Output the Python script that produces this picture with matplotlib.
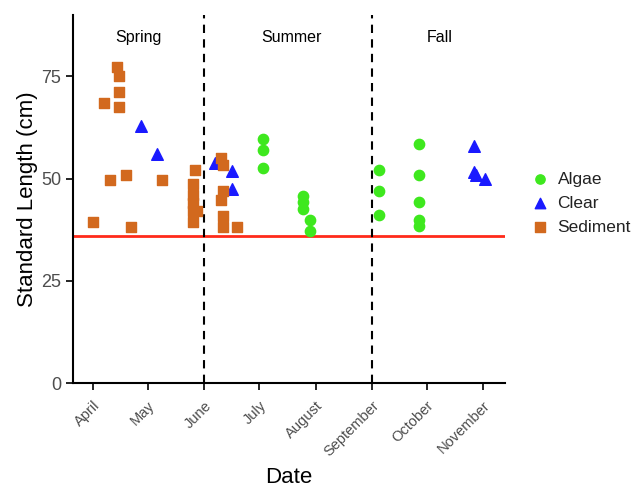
import datetime as dt
import matplotlib
matplotlib.use("Agg")
import matplotlib.pyplot as plt
import matplotlib.dates as mdates

plt.rcParams['font.family'] = ['Liberation Sans', 'DejaVu Sans']

# sampling dates (month, day) and standard length (cm) per habitat
sediment_dates = [(4, 1), (4, 7), (4, 10), (4, 14), (4, 15), (4, 15), (4, 15), (4, 19), (4, 22),
                  (5, 9), (5, 26), (5, 26), (5, 26), (5, 26), (5, 27), (5, 28), (5, 26),
                  (6, 10), (6, 11), (6, 11), (6, 10), (6, 11), (6, 11), (6, 19)]
sediment_len = [39.4, 68.6, 49.6, 77.3, 75.2, 71.2, 67.5, 50.8, 38.1,
                49.6, 48.7, 46.1, 42.0, 39.4, 52.2, 42.0, 44.0,
                55.0, 53.4, 47.0, 44.9, 40.8, 38.2, 38.2]

clear_dates = [(4, 27), (5, 6), (6, 7), (6, 16), (6, 16), (10, 27), (10, 27), (10, 28), (11, 2)]
clear_len = [63.0, 56.1, 53.9, 51.8, 47.4, 57.9, 51.6, 51.0, 49.8]

algae_dates = [(7, 3), (7, 3), (7, 3), (7, 25), (7, 25), (7, 25), (7, 29), (7, 29),
               (9, 5), (9, 5), (9, 5), (9, 27), (9, 27), (9, 27), (9, 27), (9, 27)]
algae_len = [59.8, 57.1, 52.6, 45.8, 44.4, 42.5, 40.0, 37.1,
             52.0, 47.1, 41.2, 58.5, 50.8, 44.4, 40.0, 38.5]

season_names = ["Spring", "Summer", "Fall"]
season_label_dates = [(4, 26), (7, 19), (10, 8)]
season_breaks = [(6, 1), (9, 1)]
size_cutoff = 36.0


def to_dates(pairs):
  return [dt.date(2015, m, d) for m, d in pairs]


fig = plt.figure(figsize=(6.41, 4.88), dpi=100)
ax = fig.add_axes([0.114, 0.215, 0.674, 0.754])

ax.scatter(to_dates(algae_dates), algae_len, color='#3ee81e', marker='o', s=55,
           label='Algae', zorder=3)
ax.scatter(to_dates(clear_dates), clear_len, color='#1a1aff', marker='^', s=70,
           label='Clear', zorder=3)
ax.scatter(to_dates(sediment_dates), sediment_len, color='#d2691e', marker='s', s=55,
           label='Sediment', zorder=3)

ax.axhline(size_cutoff, color='#ff2a1a', linewidth=2, zorder=2)
for b in to_dates(season_breaks):
  ax.axvline(b, color='black', linestyle=(0, (4, 3)), linewidth=1.5, zorder=2)

for name, d in zip(season_names, to_dates(season_label_dates)):
  ax.text(d, 84.5, name, ha='center', va='center', fontsize=11.5)

ax.set_xlim(dt.date(2015, 3, 21), dt.date(2015, 11, 13))
ax.set_ylim(0, 90)
ax.set_yticks([0, 25, 50, 75])
ax.xaxis.set_major_locator(mdates.MonthLocator(bymonth=range(4, 12)))
ax.xaxis.set_major_formatter(mdates.DateFormatter('%B'))
plt.setp(ax.get_xticklabels(), rotation=45, ha='right', rotation_mode='anchor')

for side in ['top', 'right']:
  ax.spines[side].set_visible(False)
for side in ['left', 'bottom']:
  ax.spines[side].set_linewidth(1.5)
ax.tick_params(axis='both', direction='out', length=5, width=1.2, colors='black',
               labelcolor='#4d4d4d')
ax.tick_params(axis='x', labelsize=10.5, pad=6)
ax.tick_params(axis='y', labelsize=13)

ax.set_xlabel('Date', fontsize=16, labelpad=6)
ax.set_ylabel('Standard Length (cm)', fontsize=16, labelpad=2)

leg = ax.legend(loc='center left', bbox_to_anchor=(1.005, 0.489), frameon=False, fontsize=12.5,
                handletextpad=0.0, labelspacing=0.5, scatterpoints=1, markerscale=0.9)
for t in leg.get_texts():
  t.set_color('#222222')

fig.savefig('out.png', dpi=100)
